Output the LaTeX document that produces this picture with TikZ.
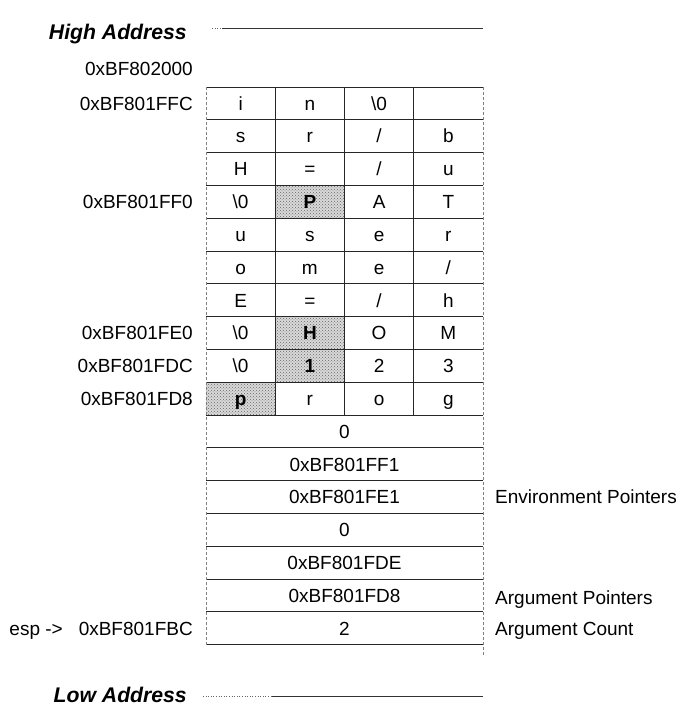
\documentclass[tikz,border=0pt]{standalone}
\usepackage{fontspec}
\setmainfont{Liberation Sans}
\usetikzlibrary{patterns,backgrounds}

% one row of four byte cells of the string area
\newcommand\byterow[5]{%
  \node[cell] (c#1-1) at (240.625,{87+(#1-0.5)*32.8}) {#2};
  \node[cell] (c#1-2) at (309.875,{87+(#1-0.5)*32.8}) {#3};
  \node[cell] (c#1-3) at (379.125,{87+(#1-0.5)*32.8}) {#4};
  \node[cell] (c#1-4) at (448.375,{87+(#1-0.5)*32.8}) {#5};
}
% one full-width word
\newcommand\wordrow[2]{%
  \node[word] (w#1) at (344.5,{87+(#1-0.5)*32.8}) {#2};
}
\newcommand\nul{\textbackslash 0}

\begin{document}
\begin{tikzpicture}[x=1pt,y=-1pt,
  txt/.style={font=\fontsize{19}{22}\selectfont, inner sep=0pt,
              text height=16pt, text depth=2.4pt},
  side/.style={txt, anchor=west},
  hdr/.style={font=\fontsize{21.2}{25}\selectfont\bfseries\itshape, inner sep=0pt,
              text height=18pt, text depth=2.8pt, anchor=east},
  addr/.style={txt, anchor=east},
  cell/.style={txt, minimum width=69.25pt, minimum height=32.8pt},
  word/.style={txt, minimum width=277pt, minimum height=32.8pt},
  gridline/.style={line width=0.75pt, black!85},
  edge/.style={line width=0.6pt, black!50, densely dashed},
  shade/.style={fill=black!15, postaction={pattern=crosshatch dots, pattern color=black!60}}
]
\useasboundingbox (0,0) rectangle (682,722);

% headings
\node[hdr] (high) at (187,32) {High Address};
\node[hdr] (low) at (187,695) {Low Address};
\coordinate (hs) at (212,28);
\coordinate (hm) at (222,28);
\coordinate (he) at (483,28);
\coordinate (ls) at (203,696);
\coordinate (lm) at (272,696);
\coordinate (le) at (483,696);
\draw[black!60, line width=0.6pt, dotted] (hs) -- (hm);
\draw[black!80, line width=0.6pt] (hm) -- (he);
\draw[black!60, line width=0.6pt, dotted] (ls) -- (lm);
\draw[black!80, line width=0.6pt] (lm) -- (le);

% string bytes
\byterow{1}{i}{n}{\nul}{}
\byterow{2}{s}{r}{/}{b}
\byterow{3}{H}{=}{/}{u}
\byterow{4}{\nul}{\bfseries P}{A}{T}
\byterow{5}{u}{s}{e}{r}
\byterow{6}{o}{m}{e}{/}
\byterow{7}{E}{=}{/}{h}
\byterow{8}{\nul}{\bfseries H}{O}{M}
\byterow{9}{\nul}{\bfseries 1}{2}{3}
\byterow{10}{\bfseries p}{r}{o}{g}

% pointer words
\wordrow{11}{0}
\wordrow{12}{0xBF801FF1}
\wordrow{13}{0xBF801FE1}
\wordrow{14}{0}
\wordrow{15}{0xBF801FDE}
\wordrow{16}{0xBF801FD8}
\wordrow{17}{2}

% highlighted string starts
\begin{pgfonlayer}{background}
  \foreach \n in {c4-2,c8-2,c9-2,c10-1}
    \path[shade] (\n.north west) rectangle (\n.south east);
\end{pgfonlayer}

% grid
\foreach \i in {0,...,17}
  \draw[gridline] (206,{87+\i*32.8}) -- (483,{87+\i*32.8});
\foreach \x in {275.25,344.5,413.75}
  \draw[gridline] (\x,87) -- (\x,415);
\draw[edge] (206,87) -- (206,645);
\draw[edge] (483,87) -- (483,655);

% addresses
\node[addr] (a0) at (193,69) {0xBF802000};
\node[addr] (a1) at (193,{87+0.5*32.8}) {0xBF801FFC};
\node[addr] (a4) at (193,{87+3.5*32.8}) {0xBF801FF0};
\node[addr] (a8) at (193,{87+7.5*32.8}) {0xBF801FE0};
\node[addr] (a9) at (193,{87+8.5*32.8}) {0xBF801FDC};
\node[addr] (a10) at (193,{87+9.5*32.8}) {0xBF801FD8};
\node[addr] (a17) at (193,{87+16.5*32.8}) {0xBF801FBC};
\node[addr] (esp) at (63,{87+16.5*32.8}) {esp ->};

% annotations
\node[side] (env) at (495,497) {Environment Pointers};
\node[side] (argp) at (495,598) {Argument Pointers};
\node[side] (argc) at (495,629) {Argument Count};
\end{tikzpicture}
\end{document}
